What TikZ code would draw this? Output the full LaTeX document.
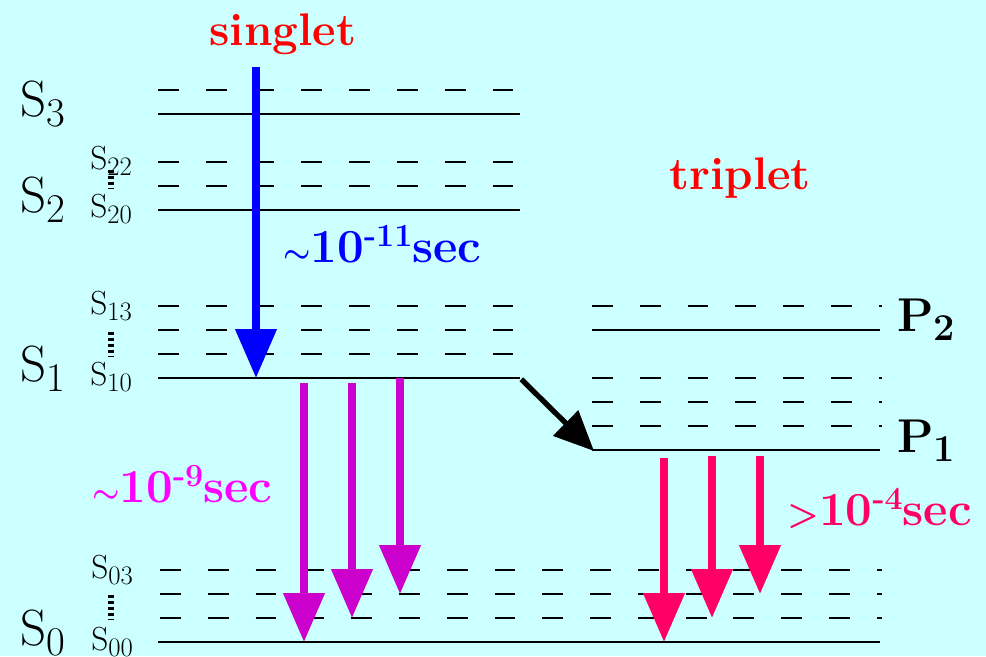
\documentclass[tikz,border=0pt]{standalone}
\usepackage{tikz}
\usetikzlibrary{arrows.meta,positioning}
\definecolor{bgcyan}{RGB}{204,255,255}
\definecolor{fluomag}{RGB}{204,0,204}
\definecolor{fluotext}{RGB}{255,0,255}
\definecolor{phospink}{RGB}{255,0,102}
\newcommand{\lowidx}[1]{\raisebox{-0.2em}{\scalebox{0.8}{#1}}}
\newcommand{\hiidx}[1]{\raisebox{0.32em}{\scalebox{0.68}{#1}}}
\newcommand{\approxsym}{\scalebox{0.7}{\boldmath$\sim$}}
\tikzset{
lvl/.style={line width=1.4pt},
sublvl/.style={line width=1.4pt,dash pattern=on 11.9pt off 15.3pt},
vdotted/.style={line width=3.3pt,dash pattern=on 1.7pt off 1.7pt},
biglbl/.style={font=\fontsize{29}{32}\selectfont,inner sep=0pt,anchor=base west},
smalllbl/.style={font=\fontsize{19}{22}\selectfont,inner sep=0pt,anchor=base west},
plbl/.style={font=\fontsize{27}{30}\selectfont\bfseries,inner sep=0pt,anchor=base west},
headlbl/.style={font=\fontsize{26}{30}\selectfont\bfseries,text=red,inner sep=0pt,anchor=base},
timelbl/.style={font=\fontsize{27}{30}\selectfont\bfseries,inner sep=0pt,anchor=base west},
trans/.style={line width=4.3pt,-{Triangle[length=27.8pt,width=22.7pt]}},
isc/.style={line width=3pt,-{Triangle[length=22.7pt,width=19.8pt]},shorten <=1pt},
}

\begin{document}
\begin{tikzpicture}[x=0.02cm,y=-0.02cm]
	\useasboundingbox (0,0) rectangle (986,656);
	\fill[bgcyan] (0,0) rectangle (986,656);

	% singlet levels
	\draw[sublvl] (158,90) -- (520,90);
	\draw[lvl] (158,114) -- (520,114);
	\draw[sublvl] (158,162) -- (520,162);
	\draw[sublvl] (158,186) -- (520,186);
	\draw[lvl] (158,210) -- (520,210);
	\draw[sublvl] (158,306) -- (520,306);
	\draw[sublvl] (158,330) -- (520,330);
	\draw[sublvl] (158,354) -- (520,354);
	\draw[lvl] (158,378) -- (520,378);
	\draw[sublvl] (160,570) -- (882,570);
	\draw[sublvl] (160,594) -- (882,594);
	\draw[sublvl] (160,618) -- (882,618);
	\draw[lvl] (158,642) -- (880,642);

	% triplet levels
	\draw[sublvl] (592,306) -- (882,306);
	\draw[lvl] (592,330) -- (880,330);
	\draw[sublvl] (592,378) -- (882,378);
	\draw[sublvl] (592,402) -- (882,402);
	\draw[sublvl] (592,426) -- (882,426);
	\draw[lvl] (592,450) -- (880,450);

	\draw[vdotted] (111,170) -- (111,188);
	\draw[vdotted] (111,332) -- (111,356);
	\draw[vdotted] (111,595) -- (111,619);

	\node[headlbl] (singlet) at (283,45) {singlet};
	\node[headlbl] (triplet) at (740,189) {triplet};

	\node[biglbl] (S3) at (20,116) {S\lowidx{3}};
	\node[biglbl] (S2) at (20,212) {S\lowidx{2}};
	\node[biglbl] (S1) at (20,381) {S\lowidx{1}};
	\node[biglbl] (S0) at (20,645) {S\lowidx{0}};

	\node[smalllbl] (S22) at (90,169) {S\lowidx{22}};
	\node[smalllbl] (S20) at (90,217) {S\lowidx{20}};
	\node[smalllbl] (S13) at (90,314) {S\lowidx{13}};
	\node[smalllbl] (S10) at (90,385) {S\lowidx{10}};
	\node[smalllbl] (S03) at (91,578) {S\lowidx{03}};
	\node[smalllbl] (S00) at (91,650) {S\lowidx{00}};

	\node[plbl] (P2) at (897,331) {P\lowidx{2}};
	\node[plbl] (P1) at (897,452) {P\lowidx{1}};

	\node[timelbl,text=blue] (tic) at (283,262) {\approxsym10\hiidx{-11}sec};
	\node[timelbl,text=fluotext] (tfl) at (92,502) {\approxsym10\hiidx{-9}sec};
	\node[timelbl,text=phospink] (tph) at (787,525) {\scalebox{0.75}{>}10\hiidx{-4}sec};

	% arrow ends
	\coordinate (ic1) at (256,67);
	\coordinate (ic2) at (256,378);
	\coordinate (fa1) at (304,383);
	\coordinate (fb1) at (304,642);
	\coordinate (fa2) at (352,383);
	\coordinate (fb2) at (352,618);
	\coordinate (fa3) at (400,378);
	\coordinate (fb3) at (400,594);
	\coordinate (s1e) at (520,378);
	\coordinate (p1w) at (594,451);
	\coordinate (pa1) at (664,458);
	\coordinate (pb1) at (664,642);
	\coordinate (pa2) at (712,456);
	\coordinate (pb2) at (712,618);
	\coordinate (pa3) at (760,456);
	\coordinate (pb3) at (760,594);

	\draw[trans,blue] (ic1) -- (ic2);
	\draw[trans,fluomag] (fa1) -- (fb1);
	\draw[trans,fluomag] (fa2) -- (fb2);
	\draw[trans,fluomag] (fa3) -- (fb3);
	\draw[isc] (s1e) -- (p1w);
	\draw[trans,phospink] (pa1) -- (pb1);
	\draw[trans,phospink] (pa2) -- (pb2);
	\draw[trans,phospink] (pa3) -- (pb3);
\end{tikzpicture}
\end{document}
